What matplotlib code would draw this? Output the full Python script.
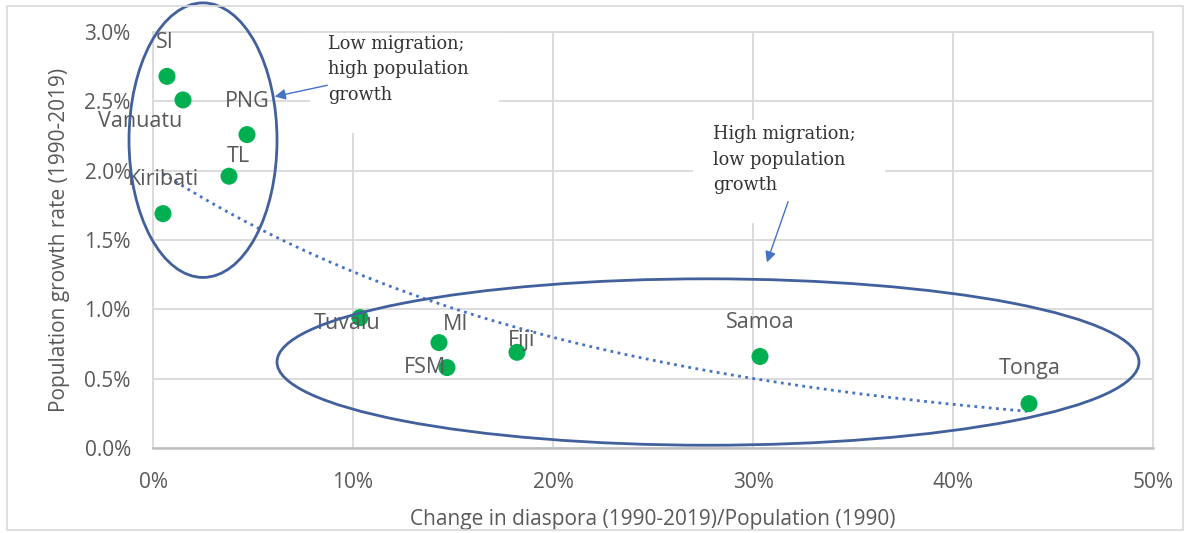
import numpy as np
import matplotlib
matplotlib.use("Agg")
import matplotlib.pyplot as plt
from matplotlib.patches import Ellipse, Rectangle
from matplotlib.ticker import PercentFormatter, MultipleLocator

# Data (percent units)
countries = ['SI', 'Vanuatu', 'PNG', 'TL', 'Kiribati', 'Tuvalu',
             'MI', 'FSM', 'Fiji', 'Samoa', 'Tonga']
diaspora_change = [0.7, 1.5, 4.7, 3.8, 0.5, 10.35, 14.3, 14.7, 18.2, 30.35, 43.8]
pop_growth = [2.68, 2.51, 2.26, 1.96, 1.69, 0.94, 0.76, 0.58, 0.69, 0.66, 0.32]

# label offsets in pixels (dx, dy with dy downward)
label_offsets = [(-2, -34), (-43, 22), (0, -33), (9, -20), (0, -34), (-13, 6),
                 (17, -18), (-22, 0), (5, -12), (0, -34), (1, -35)]

GRID = '#d9d9d9'
TXT = '#595959'
BLUE = '#4472C4'
ELL = '#41609c'
plt.rcParams['font.family'] = ['Open Sans', 'DejaVu Sans']

fig = plt.figure(figsize=(11.84, 5.33), dpi=100)
ax = fig.add_axes([153 / 1184, 85 / 533, 1000 / 1184, 416 / 533])

x = np.array(diaspora_change)
y = np.array(pop_growth)

# exponential trendline like Excel
b, lna = np.polyfit(x, np.log(y), 1)
xt = np.linspace(x.min(), x.max(), 200)
ax.plot(xt, np.exp(lna + b * xt), color=BLUE, lw=2, linestyle=(0, (1, 1.6)), zorder=3)

ax.scatter(x, y, s=150, color='#00B050', zorder=4, edgecolors='none')
for name, xi, yi, (dx, dy) in zip(countries, x, y, label_offsets):
    ax.annotate(name, (xi, yi), xytext=(dx * 0.72, -dy * 0.72), textcoords='offset points',
                ha='center', va='center', fontsize=15.5, color=TXT, zorder=5)

ax.set_xlim(0, 50)
ax.set_ylim(0, 3.0)
ax.xaxis.set_major_locator(MultipleLocator(10))
ax.yaxis.set_major_locator(MultipleLocator(0.5))
ax.xaxis.set_major_formatter(PercentFormatter(100, decimals=0))
ax.yaxis.set_major_formatter(PercentFormatter(100, decimals=1))
ax.tick_params(length=0, labelsize=15, colors=TXT)
ax.tick_params(axis='y', pad=16)
ax.tick_params(axis='x', pad=17)
ax.grid(True, color=GRID, lw=1.3)
ax.set_axisbelow(True)
for s in ['top', 'right', 'left']:
    ax.spines[s].set_color(GRID)
    ax.spines[s].set_linewidth(1.3)
ax.spines['bottom'].set_color('#bfbfbf')
ax.spines['bottom'].set_linewidth(1.8)

ax.set_xlabel('Change in diaspora (1990-2019)/Population (1990)', fontsize=15, color=TXT, labelpad=12)
ax.set_ylabel('Population growth rate (1990-2019)', fontsize=15, color=TXT, labelpad=10)

# white boxes behind the call-out texts
ax.add_patch(Rectangle((7.85, 2.27), 9.45, 0.9, facecolor='white', edgecolor='none',
                       zorder=1, clip_on=False))
ax.add_patch(Rectangle((27.0, 1.62), 9.6, 0.745, facecolor='white', edgecolor='none',
                       zorder=1, clip_on=False))

ax.text(8.75, 2.98, 'Low migration;\nhigh population\ngrowth', family='DejaVu Serif',
        fontsize=12.8, color='#333333', va='top', ha='left', linespacing=1.55, zorder=6)
ax.text(28.0, 2.33, 'High migration;\nlow population\ngrowth', family='DejaVu Serif',
        fontsize=12.8, color='#333333', va='top', ha='left', linespacing=1.55, zorder=6)

ax.annotate('', xy=(5.95, 2.53), xytext=(8.85, 2.62),
            arrowprops=dict(arrowstyle='-|>', color=BLUE, lw=1, mutation_scale=16),
            annotation_clip=False, zorder=6)
ax.annotate('', xy=(30.65, 1.32), xytext=(31.8, 1.795),
            arrowprops=dict(arrowstyle='-|>', color=BLUE, lw=1, mutation_scale=16),
            annotation_clip=False, zorder=6)

ax.add_patch(Ellipse((2.5, 2.22), 7.4, 1.98, fill=False, edgecolor=ELL, lw=2,
                     zorder=5, clip_on=False))
ax.add_patch(Ellipse((27.75, 0.62), 43.1, 1.20, fill=False, edgecolor=ELL, lw=2,
                     zorder=5, clip_on=False))

# chart frame
fig.patches.append(Rectangle((7 / 1184, 3 / 533), 1176 / 1184, 524 / 533, transform=fig.transFigure,
                             fill=False, edgecolor=GRID, lw=1.2))

fig.savefig('out.png', dpi=100)
